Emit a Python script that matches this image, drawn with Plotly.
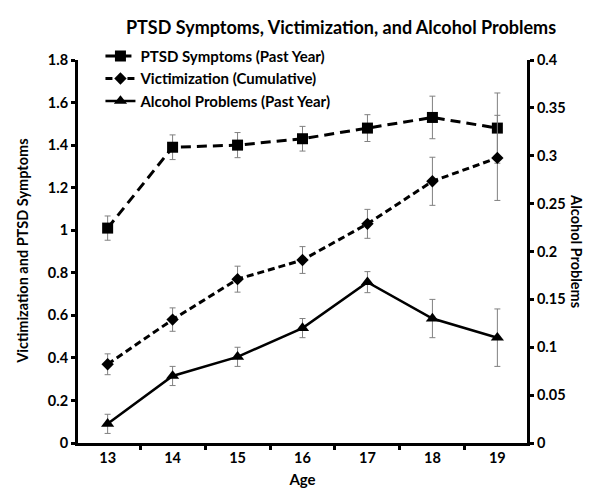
import plotly.graph_objects as go

ages = ["13", "14", "15", "16", "17", "18", "19"]
ptsd = [1.01, 1.39, 1.40, 1.43, 1.48, 1.53, 1.48]
ptsd_err = [0.057, 0.058, 0.059, 0.058, 0.063, 0.10, 0.165]
vict = [0.37, 0.58, 0.77, 0.86, 1.03, 1.23, 1.34]
vict_err = [0.049, 0.055, 0.061, 0.063, 0.068, 0.113, 0.20]
alc = [0.02, 0.07, 0.09, 0.12, 0.168, 0.13, 0.11]
alc_err = [0.01, 0.01, 0.01, 0.01, 0.011, 0.02, 0.03]

FONT = "Lato"
err_style = dict(type="data", visible=True, color="#808080", thickness=1, width=3)

fig = go.Figure()
fig.add_trace(go.Scatter(
    x=ages, y=ptsd, name="PTSD Symptoms (Past Year)", mode="lines+markers",
    line=dict(color="black", width=3, dash="10px,6px"),
    marker=dict(symbol="square", size=11, color="black"),
    error_y=dict(array=ptsd_err, **err_style)))
fig.add_trace(go.Scatter(
    x=ages, y=vict, name="Victimization (Cumulative)", mode="lines+markers",
    line=dict(color="black", width=3, dash="7px,4px"),
    marker=dict(symbol="diamond", size=9.5, color="black"),
    error_y=dict(array=vict_err, **err_style)))
fig.add_trace(go.Scatter(
    x=ages, y=alc, name="Alcohol Problems (Past Year)", mode="lines+markers",
    line=dict(color="black", width=2.5),
    marker=dict(symbol="triangle-up", size=11.5, color="black"),
    error_y=dict(array=alc_err, **err_style), yaxis="y2"))

tick_font = dict(family=FONT, size=14.5, color="black", weight="bold")

fig.update_layout(
    width=600, height=501,
    margin=dict(l=70, r=81, t=52, b=66),
    paper_bgcolor="white", plot_bgcolor="white",
    font=dict(family=FONT, color="black"),
    title=dict(text="<b>PTSD Symptoms, Victimization, and Alcohol Problems</b>",
               font=dict(family=FONT, size=18, color="black"),
               x=0.555, xanchor="center", y=0.961, yanchor="middle"),
    showlegend=True,
    legend=dict(x=0.05, y=1.053, xanchor="left", yanchor="top",
                bgcolor="rgba(0,0,0,0)", font=dict(family=FONT, size=15, color="black", weight="bold"),
                tracegroupgap=0, itemwidth=30),
    xaxis=dict(type="category", categoryorder="array", categoryarray=ages,
               tickson="boundaries", ticks="outside", ticklen=4, tickwidth=3, tickcolor="black",
               showline=True, linewidth=3, linecolor="black", showgrid=False, zeroline=False,
               tickfont=tick_font,
               title=dict(text="<b>Age</b>", font=dict(family=FONT, size=15, color="black"), standoff=10)),
    yaxis=dict(range=[0, 1.8], dtick=0.2, tick0=0, ticks="outside", ticklen=4, tickwidth=3,
               tickcolor="black", showline=True, linewidth=3, linecolor="black",
               showgrid=False, zeroline=False, tickfont=tick_font),
    yaxis2=dict(range=[0, 0.4], dtick=0.05, tick0=0, overlaying="y", side="right",
                ticks="outside", ticklen=4, tickwidth=3, tickcolor="black",
                showline=True, linewidth=3, linecolor="black",
                showgrid=False, zeroline=False, tickfont=tick_font),
    annotations=[
        dict(text="<b>Victimization and PTSD Symptoms</b>", xref="paper", yref="paper",
             x=-0.124, y=0.5, xanchor="center", yanchor="middle", textangle=-90, showarrow=False,
             font=dict(family=FONT, size=14.5, color="black")),
        dict(text="<b>Alcohol Problems</b>", xref="paper", yref="paper",
             x=1.11, y=0.5, xanchor="center", yanchor="middle", textangle=90, showarrow=False,
             font=dict(family=FONT, size=14.5, color="black")),
    ],
)

fig.write_html("out.html")
